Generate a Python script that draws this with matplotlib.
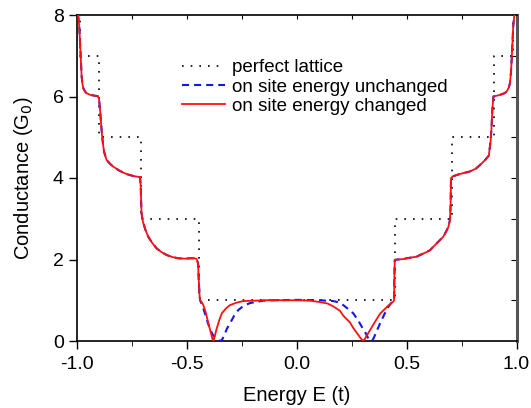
import matplotlib
matplotlib.use("Agg")
import matplotlib.pyplot as plt
from matplotlib.ticker import MultipleLocator

plt.rcParams['font.family'] = ['Liberation Sans', 'DejaVu Sans']

# Perfect lattice (step function)
perfect_E = [-1.0, -0.985, -0.985, -0.898, -0.898, -0.710, -0.710, -0.447, -0.447,
             0.445, 0.445, 0.707, 0.707, 0.897, 0.897, 0.985, 0.985, 1.0]
perfect_G = [8, 8, 7, 7, 5, 5, 3, 3, 1,
             1, 3, 3, 5, 5, 7, 7, 8, 8]

# Outer parts shared by both defect curves (left, right)
left_E = [-0.995, -0.990, -0.986, -0.982, -0.979, -0.975, -0.971, -0.963, -0.956, -0.940,
          -0.920, -0.906, -0.900, -0.895, -0.890, -0.886, -0.882, -0.877, -0.870, -0.865,
          -0.850, -0.835, -0.810, -0.789, -0.765, -0.744, -0.725, -0.713, -0.710, -0.708,
          -0.706, -0.702, -0.698, -0.688, -0.676, -0.657, -0.637, -0.615, -0.592, -0.565,
          -0.539, -0.510, -0.486, -0.465, -0.455, -0.449, -0.446, -0.442]
left_G = [8.0, 7.75, 7.3, 6.9, 6.5, 6.3, 6.2, 6.12, 6.08, 6.04,
          6.02, 6.01, 5.95, 5.67, 5.3, 5.05, 4.85, 4.65, 4.52, 4.44,
          4.35, 4.28, 4.19, 4.13, 4.08, 4.05, 4.03, 4.02, 3.79, 3.4,
          3.13, 2.98, 2.89, 2.72, 2.56, 2.40, 2.27, 2.18, 2.11, 2.06,
          2.03, 2.02, 2.03, 2.03, 2.01, 1.9, 1.5, 1.1]

right_E = [0.443, 0.444, 0.446, 0.460, 0.485, 0.500, 0.546, 0.561, 0.590, 0.607,
           0.621, 0.652, 0.667, 0.683, 0.690, 0.697, 0.700, 0.701, 0.702, 0.710,
           0.743, 0.788, 0.815, 0.834, 0.857, 0.874, 0.882, 0.886, 0.890, 0.895,
           0.910, 0.925, 0.945, 0.955, 0.965, 0.970, 0.975, 0.978, 0.985, 0.990]
right_G = [1.0, 1.5, 1.99, 2.0, 2.01, 2.03, 2.07, 2.11, 2.18, 2.23,
           2.31, 2.48, 2.56, 2.72, 2.80, 2.97, 3.3, 3.7, 4.0, 4.04,
           4.10, 4.16, 4.23, 4.32, 4.44, 4.55, 4.9, 5.2, 5.67, 6.0,
           6.02, 6.04, 6.08, 6.12, 6.22, 6.32, 6.6, 6.9, 7.71, 8.0]

# Central region, on site energy changed (red)
changed_E = [-0.440, -0.432, -0.425, -0.414, -0.402, -0.393, -0.387, -0.383, -0.380, -0.377,
             -0.372, -0.364, -0.352, -0.341, -0.322, -0.304, -0.275, -0.243, -0.190, -0.137,
             -0.080, 0.0, 0.060, 0.100, 0.140, 0.166, 0.197, 0.212, 0.243, 0.257,
             0.280, 0.292, 0.299, 0.303, 0.308, 0.318, 0.334, 0.356, 0.379, 0.394,
             0.415, 0.440]
changed_G = [1.0, 0.95, 0.88, 0.70, 0.43, 0.24, 0.12, 0.04, 0.01, 0.04,
             0.14, 0.31, 0.52, 0.68, 0.80, 0.88, 0.94, 0.98, 0.99, 1.0,
             1.0, 1.0, 0.99, 0.96, 0.92, 0.85, 0.74, 0.62, 0.45, 0.32,
             0.15, 0.06, 0.02, 0.01, 0.03, 0.13, 0.27, 0.47, 0.67, 0.75,
             0.86, 0.97]

# Central region, on site energy unchanged (blue)
unchanged_E = [-0.440, -0.430, -0.418, -0.405, -0.395, -0.383, -0.370, -0.360, -0.347, -0.338,
               -0.330, -0.318, -0.304, -0.285, -0.266, -0.243, -0.213, -0.182, -0.152, -0.100,
               0.0, 0.100, 0.166, 0.190, 0.212, 0.235, 0.257, 0.280, 0.296, 0.310,
               0.326, 0.342, 0.350, 0.362, 0.379, 0.400, 0.417, 0.432, 0.440]
unchanged_G = [1.0, 0.88, 0.68, 0.45, 0.30, 0.16, 0.07, 0.02, 0.0, 0.05,
               0.14, 0.30, 0.43, 0.62, 0.76, 0.86, 0.93, 0.96, 0.99, 1.0,
               1.01, 1.0, 0.98, 0.95, 0.88, 0.78, 0.68, 0.50, 0.35, 0.23,
               0.06, 0.0, 0.07, 0.22, 0.43, 0.67, 0.84, 0.95, 1.0]

labels = ["perfect lattice", "on site energy unchanged", "on site energy changed"]

fig = plt.figure(figsize=(5.31, 4.08), dpi=100)
ax = fig.add_axes([77/531, 67/408, (516.5-77)/531, (341-15)/408])

ax.plot(perfect_E, perfect_G, color='black', lw=1.2, linestyle=(0, (1, 4.2)),
        label=labels[0], zorder=2)
ax.plot(left_E + unchanged_E + right_E, left_G + unchanged_G + right_G, color='#1515ee',
        lw=1.5, linestyle=(0, (3.4, 2.4)), label=labels[1], zorder=3)
ax.plot(left_E + changed_E + right_E, left_G + changed_G + right_G, color='#ff1010',
        lw=1.3, label=labels[2], zorder=4)

ax.set_xlim(-1, 1)
ax.set_ylim(0, 8)
ax.xaxis.set_major_locator(MultipleLocator(0.5))
ax.xaxis.set_minor_locator(MultipleLocator(0.25))
ax.yaxis.set_major_locator(MultipleLocator(2))
ax.yaxis.set_minor_locator(MultipleLocator(1))
ax.set_xticks([-1.0, -0.5, 0.0, 0.5, 1.0])
ax.set_xticklabels(['-1.0', '-0.5', '0.0', '0.5', '1.0'])

ax.tick_params(axis='both', which='major', labelsize=14, width=1.0, color='black')
ax.tick_params(axis='x', which='major', direction='out', length=6, bottom=True, top=False, pad=4.5)
ax.tick_params(axis='x', which='minor', direction='out', length=3.5, bottom=True, top=False)
ax.tick_params(axis='y', which='major', direction='out', length=6, left=True, right=False)
ax.tick_params(axis='y', which='minor', left=False, right=False)

# inward ticks on top and right
axt = ax.secondary_xaxis('top')
axt.set_xticks([-0.75, -0.5, -0.25, 0.0, 0.25, 0.5, 0.75])
axt.tick_params(direction='in', length=3, labeltop=False, width=0.8)
axt.spines['top'].set_visible(False)
axr = ax.secondary_yaxis('right')
axr.set_yticks([1, 2, 3, 4, 5, 6, 7])
axr.tick_params(direction='in', length=4, labelright=False, width=0.8)
axr.spines['right'].set_visible(False)

for s in ['left', 'bottom', 'top']:
    ax.spines[s].set_linewidth(1.2)
    ax.spines[s].set_color('black')
ax.spines['right'].set_linewidth(2.2)
ax.spines['right'].set_color('#555555')

ax.set_xlabel('Energy E (t)', fontsize=14.5, labelpad=10)
ax.set_ylabel('Conductance (G$_0$)', fontsize=14.5, labelpad=13)

leg = ax.legend(loc='upper left', bbox_to_anchor=(182/531, 1-59/408),
                bbox_transform=fig.transFigure, frameon=False, fontsize=13.5,
                handlelength=2.3, handletextpad=0.35, labelspacing=0.12,
                borderpad=0, borderaxespad=0)

fig.savefig('out.png', dpi=100)
